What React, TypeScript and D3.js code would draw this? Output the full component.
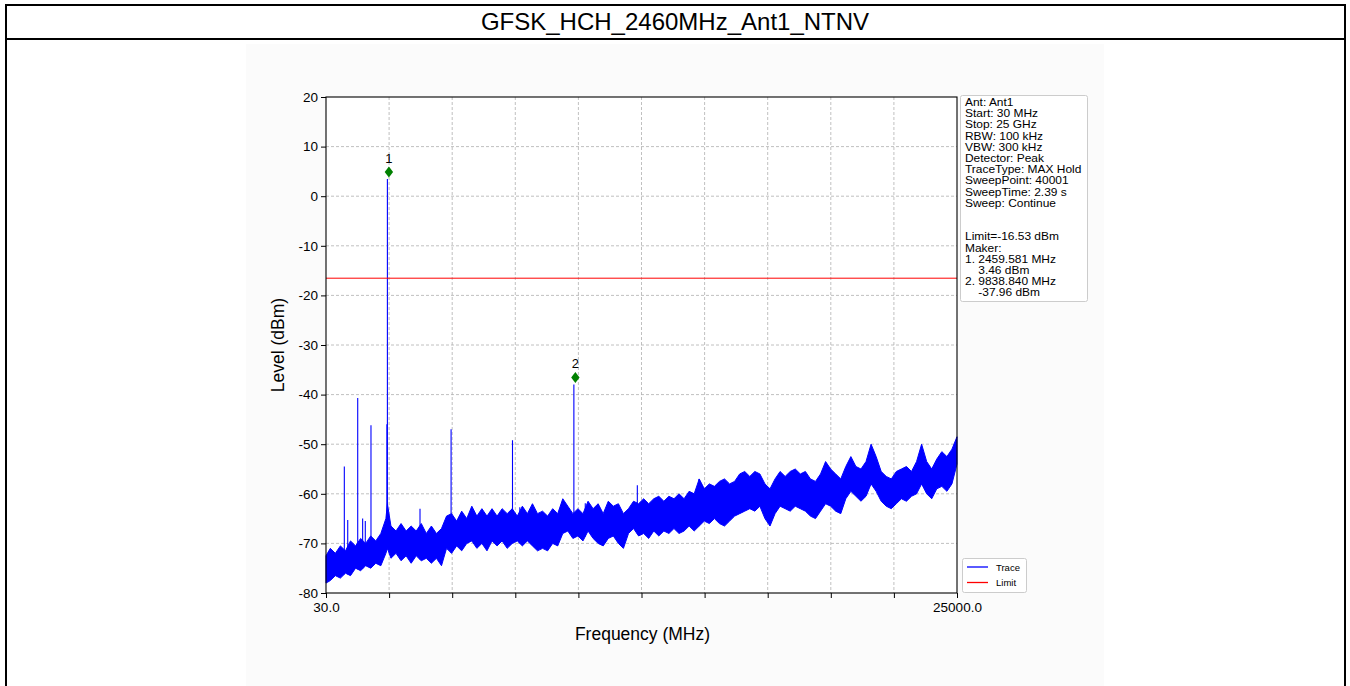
import React, { useEffect, useRef } from "react";
import * as d3 from "d3";

const title = "GFSK_HCH_2460MHz_Ant1_NTNV";
const xDomain = [30, 25000];
const yDomain = [-80, 20];
const yTicks = [20, 10, 0, -10, -20, -30, -40, -50, -60, -70, -80];
const xTicks = [30, 2527, 5024, 7521, 10018, 12515, 15012, 17509, 20006, 22503, 25000];
const xTickLabels = ["30.0", "", "", "", "", "", "", "", "", "", "25000.0"];
const limitLevel = -16.53;

// noise floor envelope (MHz, dBm)
const bandFreq = [
  30, 200, 400, 600, 800, 1000, 1200, 1400, 1600, 1800, 2000, 2200, 2400, 2460, 2600, 2800, 3000, 3200,
  3400, 3600, 3800, 4000, 4200, 4400, 4600, 4800, 5000, 5200, 5400, 5600, 5800, 6000, 6200, 6400, 6600,
  6800, 7000, 7200, 7400, 7600, 7800, 8000, 8200, 8400, 8600, 8800, 9000, 9200, 9400, 9600, 9800, 10000,
  10200, 10400, 10600, 10800, 11000, 11200, 11400, 11600, 11800, 12000, 12200, 12400, 12600, 12800, 13000,
  13200, 13400, 13600, 13800, 14000, 14200, 14400, 14600, 14800, 15000, 15200, 15400, 15600, 15800, 16000,
  16200, 16400, 16600, 16800, 17000, 17200, 17400, 17600, 17800, 18000, 18200, 18400, 18600, 18800, 19000,
  19200, 19400, 19600, 19800, 20000, 20200, 20400, 20600, 20800, 21000, 21200, 21400, 21600, 21800, 22000,
  22200, 22400, 22600, 22800, 23000, 23200, 23400, 23600, 23800, 24000, 24200, 24400, 24600, 24800, 25000,
];
const bandHigh = [
  -72.5, -71, -72, -70.5, -71.5, -69.5, -70.5, -69, -70, -68.5, -69.5, -68, -65, -62, -66.5, -67.5, -66, -67.5,
  -66.5, -67.5, -66, -68, -66.5, -68, -67, -64.5, -64, -65.5, -63.5, -65, -62.5, -64.5, -63, -64.5, -63,
  -64.5, -63, -64, -63, -64.5, -62.5, -64, -62, -64, -63.5, -64.5, -63, -64, -61, -62.5, -64, -63,
  -64, -61.5, -63, -62, -64, -61.5, -62.5, -62, -64, -63, -61.5, -62, -61, -62, -61,
  -60.5, -61.5, -60.5, -61, -60, -61, -59.5, -60, -57, -59, -58, -58.5, -57.5, -57, -58,
  -57.5, -56, -55.5, -56.5, -55.5, -56, -58, -59, -57, -55.5, -56.5, -55.5, -55, -56, -55.5,
  -57, -57.5, -56, -53.5, -55, -56, -57, -54.5, -52.5, -54.5, -55, -53.5, -50, -52.5, -55.5,
  -56.5, -57, -55.5, -55, -54.5, -55.5, -53.5, -50, -53.5, -55, -53, -51.5, -52.5, -51, -48.5,
];
const bandLow = [
  -78, -77.5, -76.5, -77, -76, -76.5, -75, -75.5, -74.5, -75, -74, -74.5, -72, -71, -73, -72, -73.5, -72.5,
  -74, -72.5, -73.5, -73, -74, -73, -74.5, -71, -72, -70.5, -71.5, -70, -69.5, -71, -70, -71.5, -69.5,
  -70.5, -69.5, -71, -70, -69.5, -70.5, -69.5, -70.5, -71.5, -71, -71.5, -70, -70.5, -68, -67.5, -69, -68.5,
  -69.5, -67.5, -69, -70, -70.5, -69, -68.5, -70, -71, -68, -67, -68.5, -68, -69, -67.5,
  -68.5, -67.5, -68, -67, -68, -67.5, -66.5, -67.5, -66.5, -65.5, -66, -65, -66, -66.5, -65.5,
  -64.5, -64, -63.5, -63, -63.5, -62.5, -65, -66.5, -64, -62.5, -63, -63.5, -62.5, -63, -63.5,
  -64.5, -65, -63.5, -62, -62.5, -63.5, -64, -61, -59.5, -60.5, -61.5, -60.5, -58, -59.5, -61.5,
  -62.5, -63, -62, -61, -61.5, -60.5, -60, -58, -60, -61, -59, -58.5, -59.5, -58, -54,
];

// discrete spurs above the floor
const spikeFreq = [755, 890, 1285, 1480, 1585, 1810, 2440, 2459.581, 3750, 4980, 7410, 7700, 9838.84, 10290, 12350, 14790];
const spikeLevel = [-54.5, -65.3, -40.7, -65, -65.5, -46.2, -46, 3.46, -63, -47, -49.2, -62.7, -37.96, -61.9, -58.3, -57];

const markerFreq = [2459.581, 9838.84];
const markerLevel = [3.46, -37.96];
const markerNames = ["1", "2"];

const infoLines = [
  "Ant: Ant1",
  "Start: 30 MHz",
  "Stop: 25 GHz",
  "RBW: 100 kHz",
  "VBW: 300 kHz",
  "Detector: Peak",
  "TraceType: MAX Hold",
  "SweepPoint: 40001",
  "SweepTime: 2.39 s",
  "Sweep: Continue",
  "",
  "",
  "Limit=-16.53 dBm",
  "Maker:",
  "1. 2459.581 MHz",
  "    3.46 dBm",
  "2. 9838.840 MHz",
  "    -37.96 dBm",
];

const legendNames = ["Trace", "Limit"];
const legendColors = ["#0000ff", "#ff0000"];

const font = "'Liberation Sans', Arial, sans-serif";

export default function App() {
  const ref = useRef<SVGSVGElement>(null);

  useEffect(() => {
    const root = d3.select(ref.current);
    root.selectAll("*").remove();

    const margin = { top: 97, left: 326 };
    const width = 631;
    const height = 496;

    // page frame
    root.append("rect").attr("x", 246).attr("y", 44).attr("width", 858).attr("height", 660).attr("fill", "#fbfbfb");
    root.append("rect")
      .attr("x", 6).attr("y", 5).attr("width", 1339).attr("height", 700)
      .attr("fill", "none").attr("stroke", "#000").attr("stroke-width", 2);
    root.append("line").attr("x1", 6).attr("x2", 1345).attr("y1", 39).attr("y2", 39)
      .attr("stroke", "#000").attr("stroke-width", 2);
    root.append("text")
      .attr("x", 675).attr("y", 30).attr("text-anchor", "middle")
      .style("font-family", font).style("font-size", "24px")
      .text(title);

    const g = root.append("g").attr("transform", "translate(" + margin.left + "," + margin.top + ")");
    const x = d3.scaleLinear().domain(xDomain).range([0, width]);
    const y = d3.scaleLinear().domain(yDomain).range([height, 0]);

    g.append("rect").attr("width", width).attr("height", height).attr("fill", "#fff");

    // grid
    g.selectAll(".vgrid").data(xTicks.slice(1, -1)).enter().append("line")
      .attr("x1", (d) => x(d)).attr("x2", (d) => x(d)).attr("y1", 0).attr("y2", height)
      .attr("stroke", "#b0b0b0").attr("stroke-width", 0.8).attr("stroke-dasharray", "3,2");
    g.selectAll(".hgrid").data(yTicks.slice(1, -1)).enter().append("line")
      .attr("x1", 0).attr("x2", width).attr("y1", (d) => y(d)).attr("y2", (d) => y(d))
      .attr("stroke", "#b0b0b0").attr("stroke-width", 0.8).attr("stroke-dasharray", "3,2");

    // noise floor
    const idx = bandFreq.map((_, i) => i);
    const area = d3.area<number>()
      .x((i) => x(bandFreq[i]))
      .y0((i) => y(bandLow[i]))
      .y1((i) => y(bandHigh[i]));
    g.append("path").datum(idx).attr("d", area)
      .attr("fill", "#0000ff").attr("stroke", "#0000ff").attr("stroke-width", 1)
      .attr("stroke-linejoin", "miter");

    // spurs
    const lowAt = (f: number) => {
      const i = Math.max(1, d3.bisectLeft(bandFreq, f));
      const t = (f - bandFreq[i - 1]) / (bandFreq[i] - bandFreq[i - 1]);
      return bandLow[i - 1] + t * (bandLow[i] - bandLow[i - 1]);
    };
    g.selectAll(".spike").data(spikeFreq).enter().append("line")
      .attr("x1", (d) => x(d)).attr("x2", (d) => x(d))
      .attr("y1", (d, i) => y(spikeLevel[i])).attr("y2", (d) => y(lowAt(d)))
      .attr("stroke", "#0000ff").attr("stroke-width", 1.1);

    // limit
    g.append("line").attr("x1", 0).attr("x2", width).attr("y1", y(limitLevel)).attr("y2", y(limitLevel))
      .attr("stroke", "#ff0000").attr("stroke-width", 1);

    // markers
    const mk = g.selectAll(".marker").data(markerFreq).enter().append("g")
      .attr("transform", (d, i) => "translate(" + (x(d) + 1.5) + "," + (y(markerLevel[i]) - 7) + ")");
    mk.append("path").attr("d", "M0,-5.5L4.2,0L0,5.5L-4.2,0Z").attr("fill", "#008000");
    mk.append("text").attr("y", -9).attr("text-anchor", "middle")
      .style("font-family", font).style("font-size", "13px")
      .text((d, i) => markerNames[i]);

    // spines
    g.append("rect").attr("width", width).attr("height", height)
      .attr("fill", "none").attr("stroke", "#000").attr("stroke-width", 1.1);

    const yAxis = d3.axisLeft(y).tickValues(yTicks).tickSize(5).tickPadding(3)
      .tickFormat((d) => String(d));
    const xAxis = d3.axisBottom(x).tickValues(xTicks).tickSize(5).tickPadding(4)
      .tickFormat((d, i) => xTickLabels[i]);
    const ya = g.append("g").call(yAxis);
    const xa = g.append("g").attr("transform", "translate(0," + height + ")").call(xAxis);
    [ya, xa].forEach((a) => {
      a.select(".domain").remove();
      a.selectAll("text").style("font-family", font).style("font-size", "13.5px").attr("fill", "#000");
      a.selectAll("line").attr("stroke", "#000");
    });

    g.append("text")
      .attr("transform", "translate(-42," + height / 2 + ") rotate(-90)")
      .attr("text-anchor", "middle")
      .style("font-family", font).style("font-size", "17.5px")
      .text("Level (dBm)");
    g.append("text")
      .attr("x", width / 2 + 1).attr("y", height + 47).attr("text-anchor", "middle")
      .style("font-family", font).style("font-size", "17.5px")
      .text("Frequency (MHz)");

    // info box (text slightly stretched like the source image)
    root.append("rect").attr("x", 960.5).attr("y", 95.5).attr("width", 127).attr("height", 206).attr("rx", 2)
      .attr("fill", "#fff").attr("stroke", "#cccccc");
    root.append("g").attr("transform", "translate(965,0) scale(1.15,1)")
      .selectAll("text").data(infoLines).enter().append("text")
      .attr("x", 0).attr("y", (d, i) => 106 + i * 11.2)
      .attr("xml:space", "preserve")
      .style("white-space", "pre")
      .style("font-family", font).style("font-size", "10.4px")
      .text((d) => d);

    // legend
    root.append("rect").attr("x", 962.5).attr("y", 558.5).attr("width", 64).attr("height", 34).attr("rx", 2)
      .attr("fill", "#fff").attr("stroke", "#cccccc");
    const lg = root.selectAll(".lg").data(legendNames).enter().append("g")
      .attr("transform", (d, i) => "translate(967," + (567 + i * 15.5) + ")");
    lg.append("line").attr("x1", 0).attr("x2", 21).attr("stroke", (d, i) => legendColors[i]).attr("stroke-width", 1.3);
    lg.append("text").attr("x", 29).attr("y", 3.5)
      .style("font-family", font).style("font-size", "9.5px")
      .text((d) => d);
  }, []);

  return (
    <svg
      ref={ref}
      width={1350}
      height={686}
      style={{ position: "absolute", left: 0, top: 0, background: "#fff" }}
    />
  );
}
